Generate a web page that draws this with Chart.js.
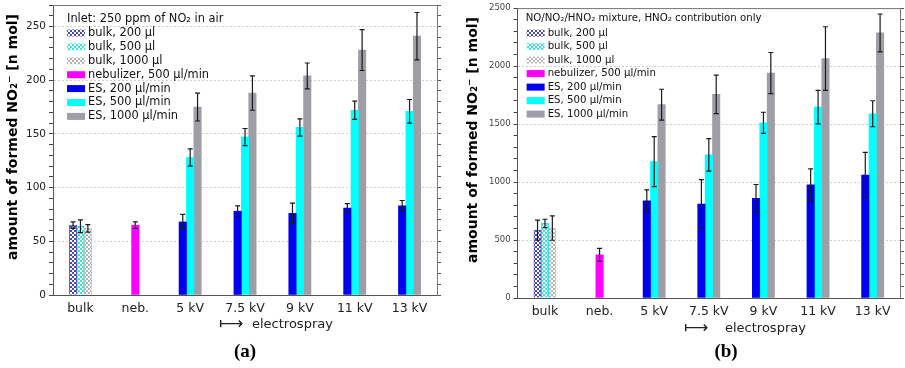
<!DOCTYPE html>
<html>
<head>
<meta charset="utf-8">
<script src="https://cdn.jsdelivr.net/npm/chart.js@4.4.0/dist/chart.umd.min.js"></script>
<style>
  body { margin: 0; background: #fff; }
  .pannello { position: absolute; top: 0; width: 452px; height: 368px; }
</style>
</head>
<body>
<div class="pannello" style="left:0"><canvas id="graficoA" width="452" height="368"></canvas></div>
<div class="pannello" style="left:453px"><canvas id="graficoB" width="452" height="368"></canvas></div>
<script>
// categorie asse x
var categorie = ["bulk", "neb.", "5 kV", "7.5 kV", "9 kV", "11 kV", "13 kV"];
var etichette = [
  "bulk, 200 \u00b5l",
  "bulk, 500 \u00b5l",
  "bulk, 1000 \u00b5l",
  "nebulizer, 500 \u00b5l/min",
  "ES, 200 \u00b5l/min",
  "ES, 500 \u00b5l/min",
  "ES, 1000 \u00b5l/min"
];

// pannello (a): 250 ppm NO2 in aria
var bulk200A = [65, null, null, null, null, null, null];
var bulk200A_err = [3, null, null, null, null, null, null];
var bulk500A = [64, null, null, null, null, null, null];
var bulk500A_err = [6, null, null, null, null, null, null];
var bulk1000A = [62, null, null, null, null, null, null];
var bulk1000A_err = [3.5, null, null, null, null, null, null];
var nebA = [null, 65, null, null, null, null, null];
var nebA_err = [null, 3, null, null, null, null, null];
var es200A = [null, null, 68, 78, 76, 81, 83];
var es200A_err = [null, null, 7, 5, 9.5, 4, 5];
var es500A = [null, null, 128, 147, 156, 172, 171];
var es500A_err = [null, null, 8, 8, 8, 8.5, 11];
var es1000A = [null, null, 175, 188, 204, 228, 241];
var es1000A_err = [null, null, 13, 16, 12, 19, 22];

// pannello (b): miscela NO/NO2/HNO2
var bulk200B = [585, null, null, null, null, null, null];
var bulk200B_err = [87, null, null, null, null, null, null];
var bulk500B = [643, null, null, null, null, null, null];
var bulk500B_err = [36, null, null, null, null, null, null];
var bulk1000B = [603, null, null, null, null, null, null];
var bulk1000B_err = [105, null, null, null, null, null, null];
var nebB = [null, 372, null, null, null, null, null];
var nebB_err = [null, 56, null, null, null, null, null];
var es200B = [null, null, 839, 810, 859, 975, 1061];
var es200B_err = [null, null, 94, 210, 120, 138, 195];
var es500B = [null, null, 1176, 1234, 1511, 1646, 1589];
var es500B_err = [null, null, 216, 140, 91, 144, 112];
var es1000B = [null, null, 1667, 1756, 1940, 2065, 2286];
var es1000B_err = [null, null, 133, 166, 177, 274, 163];

// riempimento a scacchi per le barre bulk
function scacchiera(colore) {
  var c = document.createElement("canvas");
  c.width = 4;
  c.height = 4;
  var g = c.getContext("2d");
  g.fillStyle = "#ffffff";
  g.fillRect(0, 0, 4, 4);
  g.fillStyle = colore;
  g.fillRect(0, 0, 2, 2);
  g.fillRect(2, 2, 2, 2);
  return g.createPattern(c, "repeat");
}

var colori = [scacchiera("#4a4aa8"), scacchiera("#33e6e6"), scacchiera("#b4b4b4"), "#ff00ff", "#0000f0", "#00ffff", "#9e9ea6"];
var bordi = ["#5a5ab4", "#40e0e0", "#c4c4c4", "#ff00ff", "#0000f0", "#00ffff", "#9e9ea6"];

// barre di errore
var erroriPlugin = {
  id: "errori",
  afterDatasetsDraw: function (chart) {
    var ctx = chart.ctx;
    var y = chart.scales.y;
    ctx.save();
    ctx.strokeStyle = "#1a1a1a";
    ctx.lineWidth = 1.2;
    chart.data.datasets.forEach(function (ds, i) {
      var meta = chart.getDatasetMeta(i);
      ds.errori.forEach(function (e, j) {
        if (e == null || ds.data[j] == null) return;
        var x = meta.data[j].x;
        var alto = y.getPixelForValue(ds.data[j] + e);
        var basso = y.getPixelForValue(ds.data[j] - e);
        ctx.beginPath();
        ctx.moveTo(x, alto);
        ctx.lineTo(x, basso);
        ctx.moveTo(x - 2.5, alto);
        ctx.lineTo(x + 2.5, alto);
        ctx.moveTo(x - 2.5, basso);
        ctx.lineTo(x + 2.5, basso);
        ctx.stroke();
      });
    });
    ctx.restore();
  }
};

// legenda interna, cornice, titoli degli assi ed etichetta del pannello
var decoroPlugin = {
  id: "decoro",
  afterDraw: function (chart, args, opt) {
    var ctx = chart.ctx;
    var area = chart.chartArea;
    ctx.save();
    ctx.strokeStyle = "#777";
    ctx.lineWidth = 1;
    ctx.beginPath();
    ctx.moveTo(area.left, area.top + 0.5);
    ctx.lineTo(area.right, area.top + 0.5);
    ctx.stroke();

    ctx.fillStyle = "#111";
    ctx.textBaseline = "middle";
    ctx.textAlign = "left";
    ctx.font = opt.fontLegenda + "px 'DejaVu Sans'";
    ctx.fillText(opt.titoloLegenda, area.left + opt.lx, area.top + opt.ly);
    chart.data.datasets.forEach(function (ds, i) {
      var yy = area.top + opt.ly + opt.primo + opt.passo * i;
      ctx.fillStyle = ds.backgroundColor;
      ctx.fillRect(area.left + opt.bx, yy - 3.5, 18, 7);
      ctx.fillStyle = "#111";
      ctx.fillText(ds.label, area.left + opt.bx + 21, yy);
    });

    ctx.fillStyle = "#222";
    ctx.font = "17px 'DejaVu Sans'";
    ctx.fillText("\u27fc", opt.freccia, opt.ty);
    ctx.font = "13px 'DejaVu Sans'";
    ctx.fillText("electrospray", opt.testo, opt.ty);

    ctx.font = "bold 19px 'Liberation Serif'";
    ctx.textAlign = "center";
    ctx.fillStyle = "#000";
    ctx.fillText(opt.pannello, opt.px, 352);

    // titolo asse y
    ctx.save();
    ctx.translate(opt.tx, opt.tyy);
    ctx.rotate(-Math.PI / 2);
    ctx.textAlign = "center";
    ctx.font = "bold 14px 'DejaVu Sans'";
    ctx.fillText("amount of formed NO\u2082\u207b [n mol]", 0, 0);
    ctx.restore();
    ctx.restore();
  }
};

function creaGrafico(id, serie, errori, asse, dec) {
  var datasets = serie.map(function (valori, i) {
    return {
      label: etichette[i],
      data: valori,
      errori: errori[i],
      backgroundColor: colori[i],
      borderColor: bordi[i],
      borderWidth: i < 3 ? 1 : 0,
      barThickness: 7.4,
      skipNull: true
    };
  });
  return new Chart(document.getElementById(id), {
    type: "bar",
    data: { labels: categorie, datasets: datasets },
    options: {
      responsive: false,
      animation: false,
      layout: { padding: asse.padding },
      plugins: {
        legend: { display: false },
        tooltip: { enabled: false },
        decoro: dec
      },
      scales: {
        x: {
          offset: true,
          grid: { display: false, drawTicks: false },
          border: { color: "#555" },
          ticks: { padding: 6, color: "#222", font: { family: "DejaVu Sans", size: 12.5 } }
        },
        y: {
          min: 0,
          max: asse.max,
          afterBuildTicks: function (scale) {
            var t = [];
            for (var v = 0; v <= asse.max; v += asse.minore) t.push({ value: v });
            scale.ticks = t;
          },
          ticks: {
            autoSkip: false,
            padding: 3,
            color: asse.coloreTick,
            font: function (c) {
              var maggiore = c.tick && c.tick.value % asse.maggiore === 0;
              return { family: "DejaVu Sans", size: maggiore ? asse.fontTick : 1 };
            },
            callback: function (v) { return v % asse.maggiore === 0 ? v : ""; }
          },
          grid: {
            color: function (c) {
              return c.tick && c.tick.value > 0 && c.tick.value % asse.maggiore === 0 ? "#cfcfcf" : "rgba(0,0,0,0)";
            },
            tickColor: "#444",
            tickLength: 4
          },
          border: { color: "#555", dash: [2, 2] }
        },
        y2: {
          position: "right",
          min: 0,
          max: asse.max,
          afterBuildTicks: function (scale) {
            var t = [];
            for (var v = 0; v <= asse.max; v += asse.minore) t.push({ value: v });
            scale.ticks = t;
          },
          ticks: { display: false },
          grid: { drawOnChartArea: false, tickColor: "#555", tickLength: 4 },
          border: { color: "#777" }
        }
      }
    },
    plugins: [erroriPlugin, decoroPlugin]
  });
}

var graficoA = creaGrafico(
  "graficoA",
  [bulk200A, bulk500A, bulk1000A, nebA, es200A, es500A, es1000A],
  [bulk200A_err, bulk500A_err, bulk1000A_err, nebA_err, es200A_err, es500A_err, es1000A_err],
  { max: 270, maggiore: 50, minore: 10, fontTick: 10.5, coloreTick: "#222", padding: { left: 23, right: 11, top: 5, bottom: 46 } },
  { titoloLegenda: "Inlet: 250 ppm of NO\u2082 in air", fontLegenda: 11.4, lx: 14, ly: 14, bx: 14, primo: 14, passo: 13.9,
    freccia: 219, testo: 252, ty: 325, pannello: "(a)", px: 245, tx: 13, tyy: 137 }
);

var graficoB = creaGrafico(
  "graficoB",
  [bulk200B, bulk500B, bulk1000B, nebB, es200B, es500B, es1000B],
  [bulk200B_err, bulk500B_err, bulk1000B_err, nebB_err, es200B_err, es500B_err, es1000B_err],
  { max: 2500, maggiore: 500, minore: 100, fontTick: 8.5, coloreTick: "#444", padding: { left: 33, right: 1, top: 8, bottom: 43 } },
  { titoloLegenda: "NO/NO\u2082/HNO\u2082 mixture, HNO\u2082 contribution only", fontLegenda: 10.2, lx: 8, ly: 10, bx: 9, primo: 15, passo: 13.5,
    freccia: 231, testo: 272, ty: 329, pannello: "(b)", px: 273, tx: 20, tyy: 140 }
);
</script>
</body>
</html>
